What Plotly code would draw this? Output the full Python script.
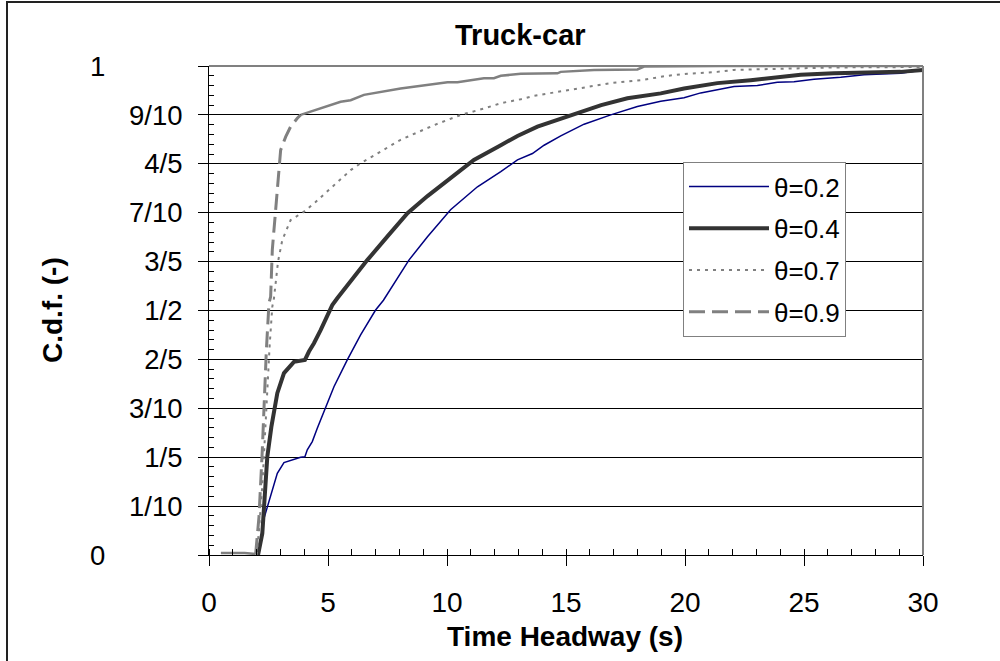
import plotly.graph_objects as go

# ---------------- data ----------------
x_t02 = [2.06, 2.31, 2.87, 3.15, 3.85, 4.03, 4.13, 4.34, 4.55, 4.86, 5.25, 5.81, 6.37, 7.0, 7.33,
         8.4, 9.18, 10.15, 11.28, 12.26, 12.96, 13.59, 14.08, 14.78, 15.76, 16.88, 18.0, 18.98,
         19.96, 20.66, 22.06, 23.04, 23.88, 24.58, 25.42, 26.54, 27.52, 29.06, 30.0]
y_t02 = [0.0, 0.075, 0.167, 0.189, 0.2, 0.201, 0.215, 0.232, 0.259, 0.296, 0.344, 0.399, 0.45, 0.501,
         0.521, 0.603, 0.651, 0.706, 0.753, 0.784, 0.808, 0.821, 0.838, 0.857, 0.881, 0.9, 0.917,
         0.928, 0.935, 0.945, 0.958, 0.96, 0.967, 0.968, 0.973, 0.977, 0.982, 0.985, 0.992]

x_t04 = [2.06, 2.24, 2.45, 2.62, 2.87, 3.15, 3.57, 4.03, 4.2, 4.41, 4.69, 5.04, 5.18, 5.39, 6.65,
         7.49, 8.34, 9.18, 10.02, 11.13, 12.26, 12.96, 13.8, 15.06, 16.48, 17.58, 18.98, 19.96,
         21.36, 22.76, 23.74, 24.86, 26.26, 27.66, 29.06, 30.0]
y_t04 = [0.0, 0.044, 0.201, 0.262, 0.331, 0.372, 0.395, 0.399, 0.416, 0.433, 0.46, 0.494, 0.511,
         0.525, 0.603, 0.651, 0.699, 0.734, 0.767, 0.808, 0.838, 0.857, 0.876, 0.896, 0.92, 0.934,
         0.944, 0.954, 0.965, 0.971, 0.977, 0.982, 0.985, 0.986, 0.988, 0.992]

x_t07 = [2.0, 2.1, 2.25, 2.35, 2.45, 2.55, 2.66, 2.73, 2.9, 3.08, 3.43, 3.99, 4.48, 5.39, 5.95, 6.37,
         7.08, 8.05, 9.45, 10.58, 11.55, 12.26, 13.1, 13.66, 14.64, 15.76, 16.88, 18.14, 19.26,
         20.1, 21.36, 22.06, 23.46, 26.26, 30.0]
y_t07 = [0.0, 0.05, 0.15, 0.25, 0.35, 0.43, 0.508, 0.525, 0.6, 0.644, 0.685, 0.702, 0.722, 0.763,
         0.787, 0.801, 0.821, 0.849, 0.879, 0.9, 0.913, 0.924, 0.932, 0.939, 0.947, 0.956, 0.965,
         0.971, 0.98, 0.984, 0.988, 0.992, 0.994, 0.997, 0.998]

x_t09 = [0.5, 1.0, 1.5, 1.96, 2.1, 2.24, 2.31, 2.41, 2.52, 2.59, 2.66, 2.8, 2.9, 3.01, 3.22, 3.43,
         3.71, 3.85, 4.69, 5.53, 5.95, 6.51, 8.05, 10.02, 10.44, 11.55, 11.97, 12.26, 13.1, 14.64,
         14.78, 16.18, 18.0, 18.28, 21.5, 30.0]
y_t09 = [0.004, 0.004, 0.004, 0.002, 0.078, 0.215, 0.317, 0.419, 0.515, 0.528, 0.624, 0.706, 0.78,
         0.828, 0.855, 0.876, 0.893, 0.9, 0.913, 0.927, 0.93, 0.941, 0.954, 0.967, 0.967, 0.975,
         0.975, 0.98, 0.984, 0.985, 0.988, 0.992, 0.993, 0.999, 1.0, 1.0]

y_tickvals = [0, 0.1, 0.2, 0.3, 0.4, 0.5, 0.6, 0.7, 0.8, 0.9, 1.0]
y_ticktext = ["", "1/10", "1/5", "3/10", "2/5", "1/2", "3/5", "7/10", "4/5", "9/10", ""]
x_tickvals = [0, 5, 10, 15, 20, 25, 30]

# ---------------- styling ----------------
FONT = "Liberation Sans, Arial, sans-serif"
W, H = 1000, 661
L, R, T, B = 209, 77, 66, 106
PW, PH = W - L - R, H - T - B


def px_x(p):
    return (p - L) / PW


def px_y(p):
    return (H - B - p) / PH


fig = go.Figure()

fig.add_trace(go.Scatter(x=x_t02, y=y_t02, mode="lines", name="θ=0.2",
                         line=dict(color="#000080", width=1.5), legendgroup="a"))
fig.add_trace(go.Scatter(x=x_t04, y=y_t04, mode="lines", name="θ=0.4",
                         line=dict(color="#333333", width=4), legendgroup="b"))
fig.add_trace(go.Scatter(x=x_t07, y=y_t07, mode="lines", name="θ=0.7",
                         line=dict(color="#808080", width=2, dash="3px,5px"), legendgroup="c"))

# θ=0.9: dashed in the steep (sparse) part, appearing solid where points are dense
DASH_START, DASH_END = 1.96, 3.85
i0 = x_t09.index(DASH_START)
i1 = x_t09.index(DASH_END)
fig.add_trace(go.Scatter(x=x_t09[:i0 + 1], y=y_t09[:i0 + 1], mode="lines", showlegend=False,
                         line=dict(color="#808080", width=2.5), legendgroup="d"))
fig.add_trace(go.Scatter(x=x_t09[i0:i1 + 1], y=y_t09[i0:i1 + 1], mode="lines", name="θ=0.9",
                         line=dict(color="#808080", width=3, dash="16px,7px"), legendgroup="d"))
fig.add_trace(go.Scatter(x=x_t09[i1:], y=y_t09[i1:], mode="lines", showlegend=False,
                         line=dict(color="#808080", width=2.5), legendgroup="d"))

fig.update_xaxes(range=[0, 30], tickvals=x_tickvals, ticks="outside", ticklen=10,
                 tickcolor="#000", tickwidth=1, showline=True, linecolor="#000", linewidth=1,
                 showgrid=False, zeroline=False, ticklabelstandoff=12,
                 tickfont=dict(family=FONT, size=28, color="#000"),
                 minor=dict(dtick=1, ticks="inside", ticklen=6, tickcolor="#000", showgrid=False))
fig.update_yaxes(range=[0, 1], tickvals=y_tickvals, ticktext=y_ticktext, ticks="outside",
                 ticklen=10, tickcolor="#000", tickwidth=1, showline=True, linecolor="#000",
                 linewidth=1, showgrid=True, gridcolor="#000", gridwidth=1, zeroline=False,
                 ticklabelstandoff=10, tickfont=dict(family=FONT, size=27.5, color="#000"),
                 minor=dict(dtick=0.02, ticks="inside", ticklen=5, tickcolor="#000", showgrid=False))


def label(text, xp, yp, size, angle=0, yref="paper"):
    return dict(text=text, x=px_x(xp), y=(px_y(yp) if yref == "paper" else yp),
                xref="paper", yref=yref, xanchor="center", yanchor="middle",
                showarrow=False, textangle=angle, font=dict(family=FONT, size=size, color="#000"))


annotations = [
    label("<b>Truck-car</b>", 520, 35, 29),
    label("<b>Time Headway (s)</b>", 565, 636, 28),
    label("<b>C.d.f. (-)</b>", 52, 310, 28, angle=-90),
    label("1", 97, 1.0, 27.5, yref="y"),
    label("0", 97, 0.0, 27.5, yref="y"),
]

shapes = [
    # gray plot-area border on top and right
    dict(type="line", xref="paper", yref="paper", x0=0, x1=1, y0=1, y1=1,
         line=dict(color="#808080", width=2), layer="above"),
    dict(type="line", xref="paper", yref="paper", x0=1, x1=1, y0=0, y1=1,
         line=dict(color="#808080", width=2), layer="above"),
    # outer chart border (right and bottom sides fall outside the picture)
    dict(type="rect", xref="paper", yref="paper", x0=px_x(7), x1=px_x(1060),
         y0=px_y(700), y1=px_y(2), line=dict(color="#222", width=2), layer="above"),
]

fig.update_layout(
    width=W, height=H, margin=dict(l=L, r=R, t=T, b=B, pad=0),
    paper_bgcolor="#fff", plot_bgcolor="#fff",
    font=dict(family=FONT, size=27, color="#000"),
    showlegend=True,
    legend=dict(x=px_x(683), y=px_y(162), xanchor="left", yanchor="top",
                bgcolor="#fff", bordercolor="#808080", borderwidth=1,
                font=dict(family=FONT, size=26, color="#000"),
                tracegroupgap=5, itemwidth=80),
    annotations=annotations, shapes=shapes,
)

# remove the default page margin so the figure sits at the window's top-left corner
fig.write_html("out.html", config={"displayModeBar": False},
               post_script="document.body.style.margin='0';document.body.style.overflow='hidden';")
